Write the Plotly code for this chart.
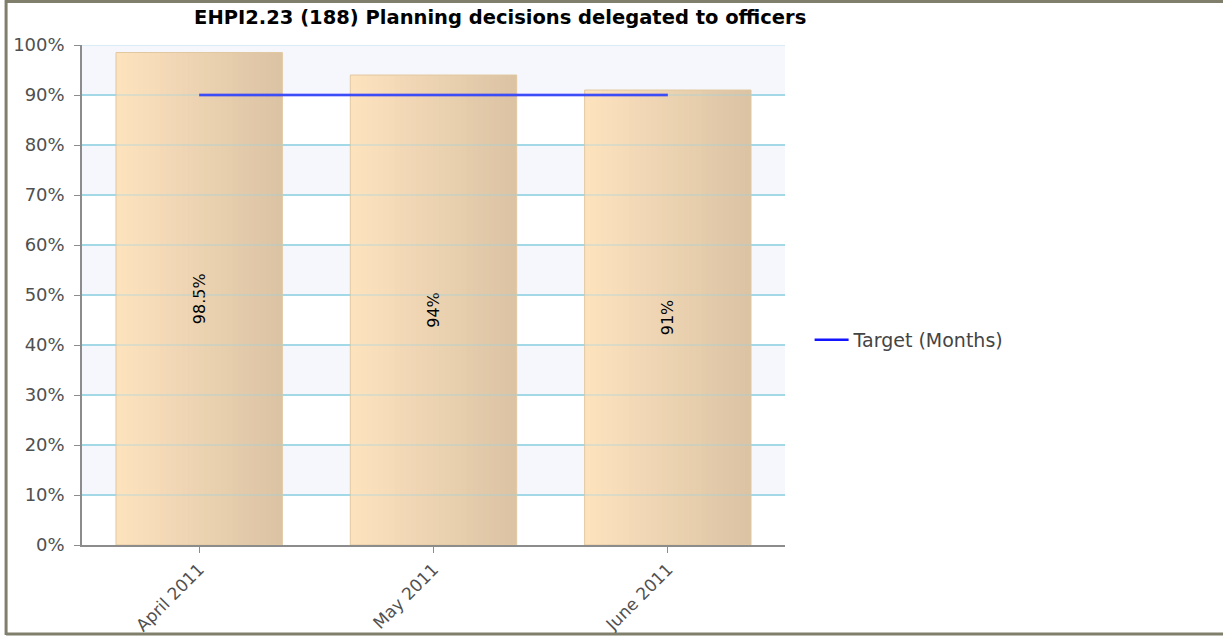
import plotly.graph_objects as go

months = ["April 2011", "May 2011", "June 2011"]
actual = [98.5, 94, 91]
target = [90, 90, 90]
bar_labels = ["98.5%", "94%", "91%"]
grid_levels = [10, 20, 30, 40, 50, 60, 70, 80, 90, 100]


def mix(c1, c2, t):
    return "rgb(%d,%d,%d)" % tuple(round(a + (b - a) * t) for a, b in zip(c1, c2))


fig = go.Figure()

# bars drawn as thin vertical slices so they fade left -> right
# (each slice overlaps the next one a bit so no seams show)
bar_w = 0.71
n_slices = 30
step = bar_w / n_slices
light = (253, 226, 190)
dark = (219, 195, 163)
for k in range(n_slices):
    w = step if k == n_slices - 1 else step * 1.6
    fig.add_trace(go.Bar(
        x=months, y=actual,
        width=w,
        offset=-bar_w / 2 + k * step,
        marker=dict(color=mix(light, dark, k / (n_slices - 1)), line=dict(width=0)),
        showlegend=False,
        hoverinfo="skip",
    ))

# thin outline + the rotated value label
fig.add_trace(go.Bar(
    x=months, y=actual,
    width=bar_w,
    marker=dict(color="rgba(0,0,0,0)", line=dict(color="rgb(226,200,160)", width=1)),
    text=bar_labels,
    textposition="inside",
    insidetextanchor="middle",
    textangle=-90,
    textfont=dict(family="DejaVu Sans", size=16, color="black"),
    showlegend=False,
))

fig.add_trace(go.Scatter(
    x=months, y=target,
    mode="lines",
    name="Target (Months)",
    line=dict(color="#1414ff", width=2.5),
))

# alternating light bands
for lo in range(10, 100, 20):
    fig.add_shape(type="rect", xref="paper", yref="y", x0=0, x1=1, y0=lo, y1=lo + 10,
                  fillcolor="#f6f7fd", line_width=0, layer="below")

# gridlines, also faintly visible through the bars
for g in grid_levels:
    fig.add_shape(type="line", xref="paper", yref="y", x0=0, x1=1, y0=g, y1=g,
                  line=dict(color="rgba(150,212,228,0.4)", width=1.5), layer="above")

# frame round the whole picture
frame = "#7f7f6c"
fig.add_shape(type="line", xref="paper", yref="paper", x0=-0.108, x1=1.7, y0=1.087, y1=1.087,
              line=dict(color=frame, width=3))
fig.add_shape(type="line", xref="paper", yref="paper", x0=-0.108, x1=-0.108, y0=1.09, y1=-0.18,
              line=dict(color=frame, width=3))
fig.add_shape(type="line", xref="paper", yref="paper", x0=-0.108, x1=1.7, y0=-0.178, y1=-0.178,
              line=dict(color=frame, width=3))

fig.update_layout(
    width=1223, height=636,
    margin=dict(l=82, r=438, t=45, b=91, autoexpand=False),
    paper_bgcolor="white",
    plot_bgcolor="white",
    barmode="overlay",
    title=dict(text="<b>EHPI2.23 (188) Planning decisions delegated to officers</b>",
               x=0.409, xanchor="center", yref="container", y=0.973, yanchor="middle",
               font=dict(family="DejaVu Sans", size=19.5, color="black")),
    font=dict(family="DejaVu Sans", size=18, color="#505050"),
    legend=dict(x=1.035, y=0.41, xanchor="left", yanchor="middle", itemwidth=34,
                font=dict(size=19, color="#444444"), bgcolor="rgba(0,0,0,0)"),
    xaxis=dict(range=[-0.5, 2.5], showgrid=False, showline=True, linecolor="#8c8c8c",
               linewidth=1.5, ticks="outside", ticklen=6, tickcolor="#8c8c8c",
               tickangle=-45, automargin=False, tickfont=dict(size=17, color="#505050")),
    yaxis=dict(range=[0, 100], dtick=10, ticksuffix="%", showgrid=True,
               gridcolor="#a8dce8", gridwidth=1.5, showline=True, linecolor="#8c8c8c",
               linewidth=1.5, ticks="outside", ticklen=6, tickcolor="#8c8c8c",
               ticklabelstandoff=6, automargin=False,
               zeroline=False, tickfont=dict(size=18, color="#505050")),
)

fig.write_html("out.html", config={"displayModeBar": False},
               post_script="document.body.style.margin='0';document.body.style.overflow='hidden';")
